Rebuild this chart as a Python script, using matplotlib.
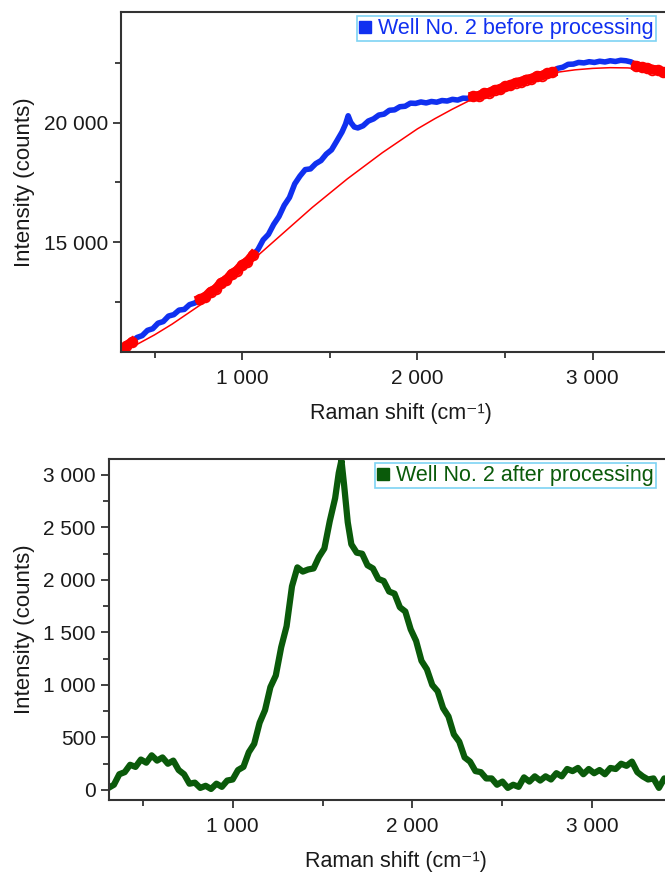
import numpy as np
import matplotlib.pyplot as plt
from matplotlib.ticker import FuncFormatter, MultipleLocator
from matplotlib.lines import Line2D

plt.rcParams['font.family'] = ['Liberation Sans', 'DejaVu Sans']

### data, Raman shift grid (cm-1)
shift = [310, 340, 370, 400, 430, 460, 490, 520, 550, 580, 610, 640, 670, 700, 730,
         760, 790, 820, 850, 880, 910, 940, 970, 1000, 1030, 1060, 1090, 1120, 1150,
         1180, 1210, 1240, 1270, 1300, 1330, 1360, 1390, 1420, 1450, 1480, 1510, 1540,
         1570, 1590, 1605, 1620, 1640, 1660, 1690, 1720, 1750, 1780, 1810, 1840, 1870,
         1900, 1930, 1960, 1990, 2020, 2050, 2080, 2110, 2140, 2170, 2200, 2230, 2260,
         2290, 2320, 2350, 2380, 2410, 2440, 2470, 2500, 2530, 2560, 2590, 2620, 2650,
         2680, 2710, 2740, 2770, 2800, 2830, 2860, 2890, 2920, 2950, 2980, 3010, 3040,
         3070, 3100, 3130, 3160, 3190, 3220, 3250, 3280, 3310, 3340, 3370, 3400, 3430,
         3460]

# before processing (raw counts)
raw = [10380, 10640, 10790, 10990, 11070, 11290, 11360, 11590, 11660, 11890, 11950,
       12140, 12170, 12370, 12440, 12600, 12690, 12910, 13020, 13290, 13400, 13660,
       13790, 14040, 14170, 14440, 14680, 15090, 15320, 15740, 16070, 16540, 16870,
       17440, 17770, 18040, 18070, 18290, 18420, 18690, 18870, 19240, 19620, 19950,
       20300, 20020, 19830, 19790, 19880, 20080, 20170, 20330, 20370, 20530, 20550,
       20680, 20700, 20830, 20820, 20880, 20840, 20900, 20870, 20940, 20920, 20990,
       20960, 21040, 21030, 21110, 21130, 21240, 21270, 21380, 21410, 21540, 21580,
       21690, 21720, 21820, 21850, 21960, 21980, 22080, 22130, 22290, 22340, 22460,
       22470, 22540, 22520, 22570, 22540, 22590, 22560, 22610, 22580, 22630, 22610,
       22560, 22390, 22340, 22310, 22240, 22210, 22140, 22110, 22040]

# fitted baseline
fit_shift = [310, 400, 500, 600, 700, 800, 900, 1000, 1100, 1200, 1300, 1400, 1500,
             1600, 1700, 1800, 1900, 2000, 2100, 2200, 2300, 2400, 2500, 2600, 2700,
             2800, 2900, 3000, 3100, 3200, 3300, 3400, 3500]
fit = [10350, 10700, 11100, 11550, 12050, 12550, 13150, 13800, 14500, 15150, 15800,
       16450, 17050, 17650, 18200, 18750, 19250, 19750, 20180, 20580, 20950, 21300,
       21550, 21780, 21980, 22130, 22230, 22290, 22320, 22310, 22250, 22150, 22000]

# ranges used for the baseline fit
fit_ranges = [(310, 380), (760, 1080), (2310, 2780), (3230, 3500)]

# after processing (baseline removed)
corr = [20, 50, 150, 170, 240, 220, 290, 260, 330, 280, 310, 250, 280, 190, 150,
        60, 70, 20, 40, 10, 60, 30, 90, 100, 190, 220, 360, 440, 640, 760, 980,
        1090, 1360, 1560, 1940, 2120, 2080, 2100, 2110, 2220, 2300, 2560, 2780,
        3020, 3140, 2900, 2550, 2340, 2260, 2250, 2140, 2110, 2010, 1990, 1890,
        1870, 1740, 1700, 1530, 1420, 1230, 1150, 1000, 940, 780, 700, 530, 460,
        310, 270, 180, 170, 110, 110, 50, 80, 20, 50, 30, 120, 80, 130, 90, 130,
        100, 160, 130, 200, 180, 210, 150, 200, 160, 190, 150, 210, 200, 250, 230,
        270, 170, 130, 100, 110, 20, 110, 100, 70]

xs = np.array(shift, dtype=float)
raw = np.array(raw, dtype=float)
mask = np.zeros(len(xs), dtype=bool)
for a, b in fit_ranges:
    mask |= (xs >= a) & (xs <= b)
raw_fit = np.where(mask, raw, np.nan)

def spaced(v, p):
    return f"{int(round(v)):,}".replace(",", " ")

fig = plt.figure(figsize=(6.65, 8.72), dpi=100)
ax1 = fig.add_axes([0.182, 0.5963, 0.841, 0.390])
ax2 = fig.add_axes([0.164, 0.0826, 0.862, 0.391])

blue = '#1030f0'
green = '#0a5a0a'
edge = '#5ec8f0'

### plot 1
ax1.plot(xs, raw, '-', color=blue, lw=4)
ax1.plot(xs, raw_fit, '-', color='red', lw=7)
ax1.plot(xs, raw_fit, 'o', color='red', mfc='none', ms=7, mew=1.3)
ax1.plot(fit_shift, fit, '-', color='red', lw=1.1)
ax1.set_xlim(309, 3500)
ax1.set_ylim(10380, 24660)
ax1.yaxis.set_major_locator(MultipleLocator(5000))
ax1.yaxis.set_minor_locator(MultipleLocator(2500))

### plot 2
ax2.plot(xs, corr, '-', color=green, lw=4.5)
ax2.set_xlim(313, 3500)
ax2.set_ylim(-95, 3152)
ax2.yaxis.set_major_locator(MultipleLocator(500))
ax2.yaxis.set_minor_locator(MultipleLocator(250))

############################################
for ax in (ax1, ax2):
    ax.xaxis.set_major_locator(MultipleLocator(1000))
    ax.xaxis.set_minor_locator(MultipleLocator(500))
    ax.xaxis.set_major_formatter(FuncFormatter(spaced))
    ax.yaxis.set_major_formatter(FuncFormatter(spaced))
    ax.tick_params(which='both', direction='out', top=False, right=False,
                   labelsize=15, color='#333333', width=1.3, labelcolor='#1a1a1a')
    ax.tick_params(which='major', length=6)
    ax.tick_params(which='minor', length=4)
    ax.tick_params(axis='x', pad=6)
    for s in ax.spines.values():
        s.set_color('#333333')
        s.set_linewidth(1.5)
    ax.set_xlabel('Raman shift (cm\u207b\u00b9)', fontsize=15.5, labelpad=11,
                  color='#1a1a1a')
    ax.set_ylabel('Intensity (counts)', fontsize=16, labelpad=6, color='#1a1a1a')

h1 = Line2D([], [], ls='none', marker='s', color=blue, ms=8)
h2 = Line2D([], [], ls='none', marker='s', color=green, ms=8)
for ax, h, lab, col, y in [(ax1, h1, 'Well No. 2 before processing', blue, 1 - 16 / 872),
                           (ax2, h2, 'Well No. 2 after processing', green, 1 - 463 / 872)]:
    leg = ax.legend([h], [lab], loc='upper right', bbox_to_anchor=(656 / 665, y),
                    bbox_transform=fig.transFigure, fontsize=15.5, frameon=True,
                    fancybox=False, borderpad=0.1, handlelength=0.6,
                    handletextpad=0.3, borderaxespad=0)
    leg.get_frame().set_edgecolor(edge)
    leg.get_frame().set_linewidth(1.2)
    for t in leg.get_texts():
        t.set_color(col)

plt.savefig('out.png')
plt.close()
